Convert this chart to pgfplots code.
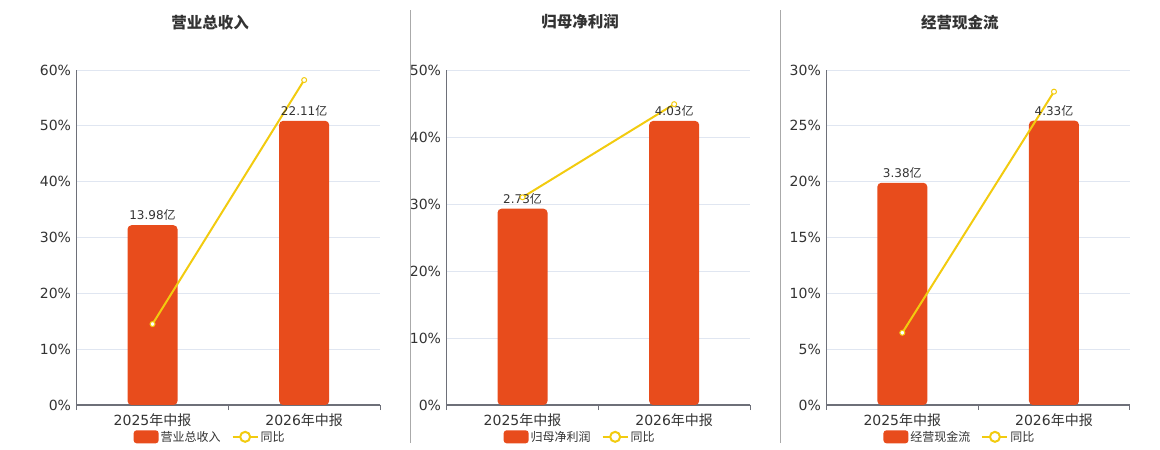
\documentclass[border=0pt]{standalone}
\usepackage{fontspec}
\setmainfont{DejaVu Sans}
\newfontfamily\cjk{Noto Sans CJK SC}
\usepackage{pgfplots}
\pgfplotsset{compat=1.18}

\definecolor{barc}{HTML}{E84C1C}
\definecolor{linec}{HTML}{F2CB0F}
\definecolor{gridc}{HTML}{E0E6F1}
\definecolor{axisc}{HTML}{6E7079}
\definecolor{txt}{HTML}{333333}
\definecolor{sepc}{HTML}{AAAAAA}

\pgfplotsset{
  panel/.style={
    scale only axis, width=303.3pt, height=335pt,
    anchor=south west,
    xmin=-0.5, xmax=1.5, ymin=0,
    axis x line=bottom, axis y line=left,
    axis line style={-, axisc, line width=0.8pt},
    x axis line style={line width=1.4pt},
    xtick={0,1},
    xticklabels={2025{\cjk 年中报},2026{\cjk 年中报}},
    xtick style={draw=none},
    x tick label style={yshift=-3pt},
    extra x ticks={-0.5,0.5,1.5},
    extra x tick labels={},
    extra x tick style={xtick style={draw=axisc, line width=0.8pt}, tick align=outside, major tick length=5pt, grid=none},
    ytick style={draw=none},
    ymajorgrids, grid style={gridc, line width=0.8pt},
    yticklabel={\pgfmathprintnumber[assume math mode=true]{\tick}\%},
    tick label style={font=\fontsize{14}{16}\selectfont, text=txt},
    title style={at={(0.44,1.125)}, anchor=center, font=\fontsize{15.5}{18}\selectfont\bfseries, text=txt},
    legend style={draw=none, fill=none, legend columns=-1, at={(0.44,-0.095)}, anchor=center,
      font=\fontsize{12}{14}\selectfont, text=txt,
      /tikz/every even column/.append style={column sep=9pt}},
    clip=false,
  },
  barplot/.style={ybar, bar width=50pt, bar shift=0pt, fill=barc, draw=none, rounded corners=4pt,
    nodes near coords={\pgfplotspointmeta{\cjk 亿}}, point meta=explicit symbolic,
    every node near coord/.style={font=\fontsize{12}{14}\selectfont, text=txt, anchor=south, yshift=1pt},
    legend image code/.code={\fill[barc, rounded corners=3pt] (0pt,-6.5pt) rectangle (25pt,6.5pt);}},
  lineplot/.style={linec, line width=2pt, mark=*, mark size=2.5pt,
    mark options={fill=white, draw=linec, line width=1pt},
    legend image code/.code={\draw[linec, line width=2pt] (0pt,0pt)--(25pt,0pt);
      \draw[linec, line width=2pt, fill=white] (12.5pt,0pt) circle (5pt);}},
}

\begin{document}
\begin{tikzpicture}
\path[use as bounding box] (0,0) rectangle (1160pt,450pt);

% Panel 1
\begin{axis}[panel, at={(76.7pt,45pt)}, ymax=60, ytick={0,10,...,60}, title={\cjk\bfseries 营业总收入}]
\addplot[barplot] table[meta=lab, row sep=\\] {x y lab\\ 0 32.2 13.98\\ 1 50.9 22.11\\};
\addlegendentry{\cjk 营业总收入}
\addplot[lineplot] coordinates {(0,14.5) (1,58.2)};
\addlegendentry{\cjk 同比}
\end{axis}

% Panel 2
\begin{axis}[panel, at={(446.7pt,45pt)}, ymax=50, ytick={0,10,...,50}, title={\cjk\bfseries 归母净利润}]
\addplot[barplot] table[meta=lab, row sep=\\] {x y lab\\ 0 29.3 2.73\\ 1 42.4 4.03\\};
\addlegendentry{\cjk 归母净利润}
\addplot[lineplot] coordinates {(0,31.0) (1,44.9)};
\addlegendentry{\cjk 同比}
\end{axis}

% Panel 3
\begin{axis}[panel, at={(826.5pt,45pt)}, ymax=30, ytick={0,5,...,30}, title={\cjk\bfseries 经营现金流}]
\addplot[barplot] table[meta=lab, row sep=\\] {x y lab\\ 0 19.9 3.38\\ 1 25.46 4.33\\};
\addlegendentry{\cjk 经营现金流}
\addplot[lineplot] coordinates {(0,6.47) (1,28.06)};
\addlegendentry{\cjk 同比}
\end{axis}

\draw[sepc, line width=1pt] (410.5pt,7pt) -- (410.5pt,440pt);
\draw[sepc, line width=1pt] (780.5pt,7pt) -- (780.5pt,440pt);
\end{tikzpicture}
\end{document}
